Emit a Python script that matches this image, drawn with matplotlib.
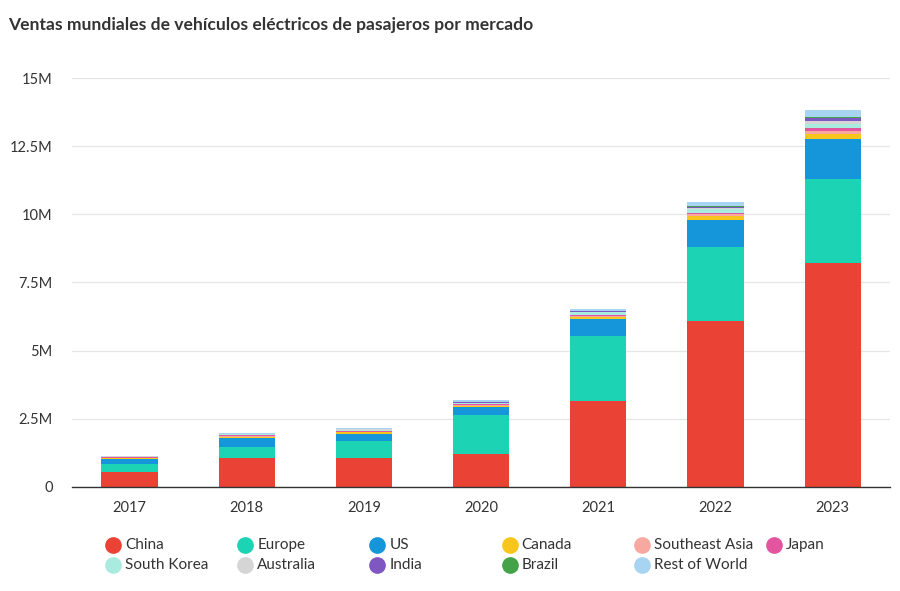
import matplotlib
matplotlib.use('Agg')
import matplotlib.pyplot as plt
from matplotlib.lines import Line2D
import numpy as np

plt.rcParams['font.family'] = ['Lato', 'DejaVu Sans']

# sales in millions of vehicles
years = ['2017', '2018', '2019', '2020', '2021', '2022', '2023']
china = [0.55, 1.08, 1.08, 1.21, 3.15, 6.10, 8.20]
europe = [0.30, 0.40, 0.60, 1.42, 2.38, 2.72, 3.10]
us = [0.18, 0.33, 0.28, 0.30, 0.63, 0.99, 1.45]
canada = [0.015, 0.04, 0.05, 0.05, 0.08, 0.14, 0.20]
southeast_asia = [0.005, 0.01, 0.01, 0.02, 0.04, 0.05, 0.10]
japan = [0.05, 0.05, 0.04, 0.03, 0.03, 0.06, 0.12]
south_korea = [0.015, 0.03, 0.04, 0.05, 0.10, 0.12, 0.15]
australia = [0.005, 0.005, 0.01, 0.01, 0.02, 0.05, 0.10]
india = [0.002, 0.003, 0.005, 0.01, 0.02, 0.05, 0.10]
brazil = [0.001, 0.002, 0.005, 0.01, 0.01, 0.03, 0.06]
rest_of_world = [0.02, 0.02, 0.03, 0.08, 0.05, 0.15, 0.25]

names = ['China', 'Europe', 'US', 'Canada', 'Southeast Asia', 'Japan',
         'South Korea', 'Australia', 'India', 'Brazil', 'Rest of World']
series = [china, europe, us, canada, southeast_asia, japan,
          south_korea, australia, india, brazil, rest_of_world]
colors = ['#EA4335', '#1CD3B3', '#1696DA', '#F8C51C', '#F7A9A1', '#E4559F',
          '#A9EBDF', '#D5D5D5', '#7E57C2', '#44A348', '#A6D4F1']

fig = plt.figure(figsize=(9, 5.91), dpi=100)
ax = fig.add_axes([0.08, 0.176, 0.909, 0.692])

x = np.arange(len(years))
bottom = np.zeros(len(years))
for vals, c in zip(series, colors):
    ax.bar(x, vals, width=0.48, bottom=bottom, color=c, zorder=3)
    bottom += np.array(vals)

ax.set_xlim(-0.49, 6.49)
ax.set_ylim(0, 15)
ax.set_yticks([0, 2.5, 5, 7.5, 10, 12.5, 15])
ax.set_yticklabels(['0', '2.5M', '5M', '7.5M', '10M', '12.5M', '15M'])
ax.set_xticks(x)
ax.set_xticklabels(years)
ax.tick_params(length=0, labelsize=10.5, colors='#333333')
ax.tick_params(axis='x', pad=10)
ax.tick_params(axis='y', pad=14)
ax.grid(axis='y', color='#e6e6e6', linewidth=0.9, zorder=0)
for s in ['left', 'right', 'top']:
    ax.spines[s].set_visible(False)
ax.spines['bottom'].set_color('#333333')
ax.spines['bottom'].set_linewidth(1.0)
ax.spines['bottom'].set_zorder(4)

fig.text(0.009, 0.958, 'Ventas mundiales de vehículos eléctricos de pasajeros por mercado',
         fontsize=12.6, fontweight='bold', color='#333333', va='center')

# legend, 6 per row
for i, (n, c) in enumerate(zip(names, colors)):
    row, col = divmod(i, 6)
    lx = 113 + col * 132.2
    ly = 545 + row * 20
    fig.add_artist(Line2D([lx / 900], [1 - ly / 591], marker='o', markersize=11,
                          color=c, transform=fig.transFigure))
    fig.text((lx + 12) / 900, 1 - ly / 591, n, fontsize=11, color='#333333', va='center')

fig.savefig('out.png', dpi=100)
